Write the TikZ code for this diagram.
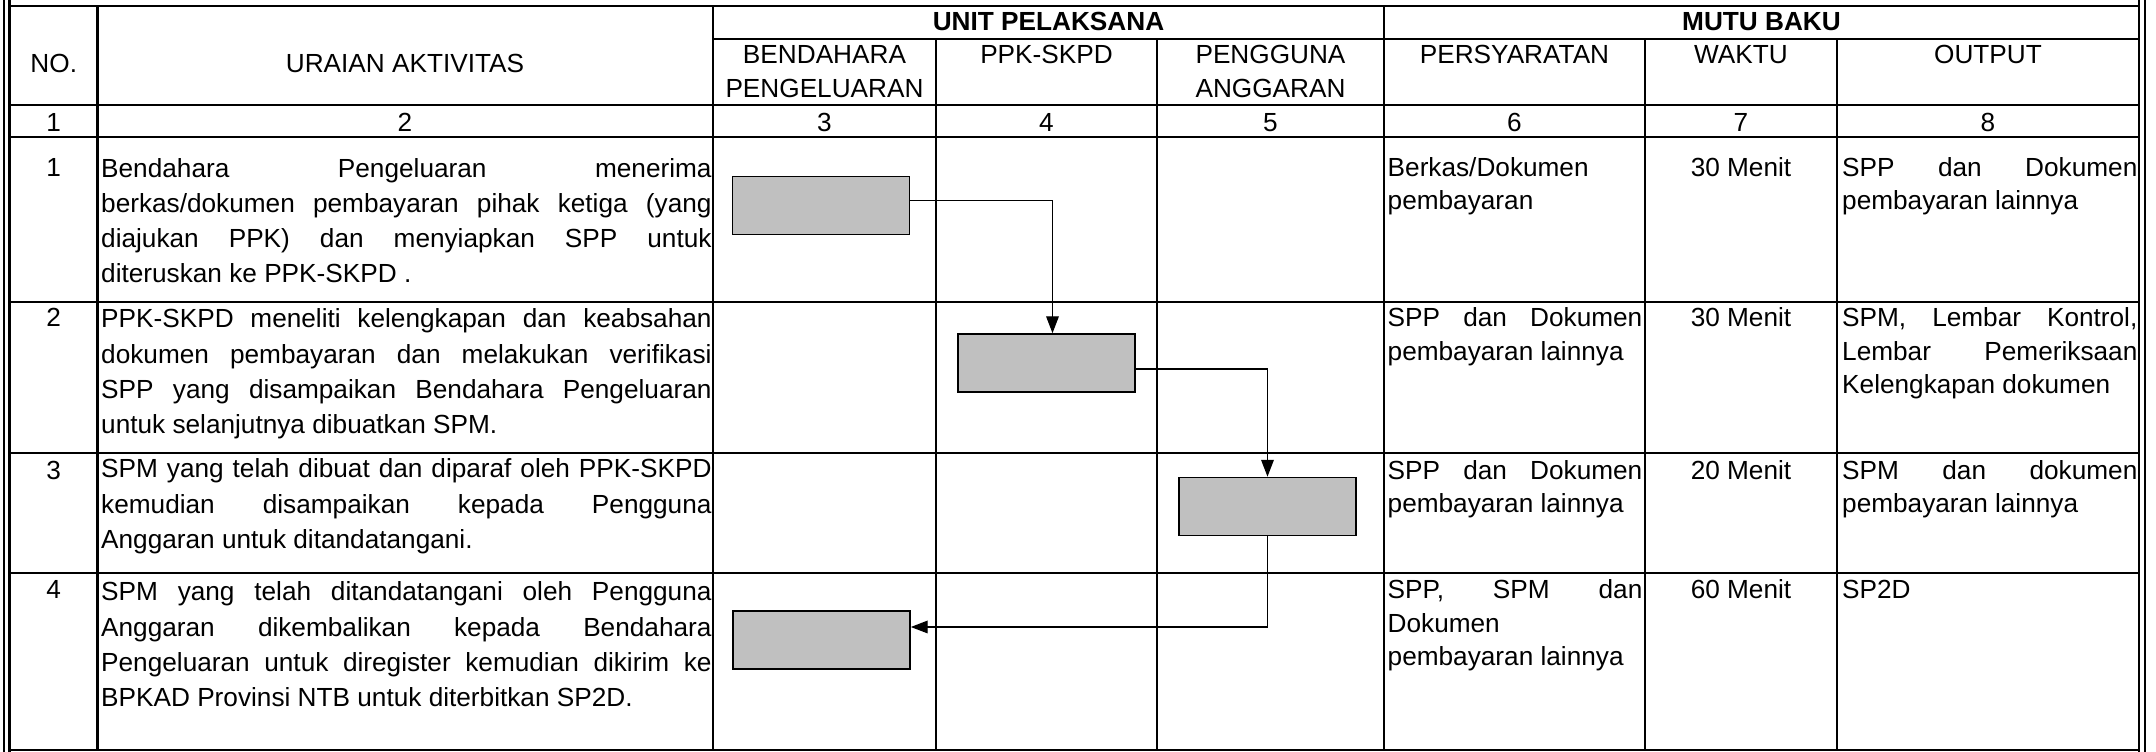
\documentclass[tikz,border=0pt]{standalone}
\usepackage{fontspec}
\setmainfont{Liberation Sans}
\usetikzlibrary{arrows.meta,calc}
\definecolor{boxgray}{HTML}{C0C0C0}
\newcommand{\ufont}{\fontsize{7.45}{9.96}\selectfont}
\newcommand{\cfont}{\fontsize{7.45}{9.39}\selectfont}
\newcommand{\hfont}{\fontsize{7.45}{9.67}\selectfont}
\newcommand{\ucell}[1]{\parbox[t]{6.10cm}{\ufont #1}}
\newcommand{\pcell}[1]{\parbox[t]{2.545cm}{\cfont #1}}
\newcommand{\ocell}[1]{\parbox[t]{2.95cm}{\cfont #1}}
\newcommand{\hcell}[1]{\parbox[t]{2.2cm}{\centering\hfont #1}}
\newcommand{\jl}[1]{\makebox[\linewidth][s]{#1}}
\begin{document}
\begin{tikzpicture}[x=0.01cm,y=-0.01cm,
  grid/.style={line width=0.75pt, line cap=rect},
  frame/.style={line width=0.7pt},
  hd/.style={anchor=base, inner sep=0pt, font=\hfont},
  hdb/.style={anchor=base, inner sep=0pt, font=\hfont\bfseries},
  txt/.style={anchor=base west, inner sep=0pt, font=\cfont},
  proc/.style={draw=black, line width=0.45pt, fill=boxgray, minimum width=1.77cm, minimum height=0.58cm, inner sep=0pt},
  flow/.style={draw=black, line width=0.35pt, -{Triangle[length=4.8pt,width=3.6pt]}}
]
\useasboundingbox (0,0) rectangle (2156,752);
% outer double frame
\draw[frame] (4,0) -- (4,752);
\draw[frame] (9.5,0) -- (9.5,752);
\draw[frame] (2139,0) -- (2139,752);
\draw[frame] (2145,0) -- (2145,752);
% table rules
\draw[grid] (9.5,6) -- (2139,6);
\draw[grid] (713,39) -- (2139,39);
\foreach \y in {105,137,302,453,573,750} \draw[grid] (9.5,\y) -- (2139,\y);
\foreach \x in {97.5,713,1384} \draw[grid] (\x,6) -- (\x,750);
\foreach \x in {936,1157,1645,1837} \draw[grid] (\x,39) -- (\x,750);

% header
\node[hd] (hno) at (53.75,72.5) {NO.};
\node[hd] (hur) at (405,72.5) {URAIAN AKTIVITAS};
\node[hdb] (hunit) at (1048.5,31) {UNIT PELAKSANA};
\node[hdb] (hmutu) at (1761.5,31) {MUTU BAKU};
\node[hd] (hbend) at (824.5,63.5) {\hcell{BENDAHARA\\PENGELUARAN}};
\node[hd] (hppk) at (1046.5,63.5) {PPK-SKPD};
\node[hd] (hpa) at (1270.5,63.5) {\hcell{PENGGUNA\\ANGGARAN}};
\node[hd] (hpers) at (1514.5,63.5) {PERSYARATAN};
\node[hd] (hwaktu) at (1741,63.5) {WAKTU};
\node[hd] (hout) at (1988,63.5) {OUTPUT};
% column numbers
\node[hd] (n1) at (53.75,131.5) {1};
\node[hd] (n2) at (405,131.5) {2};
\node[hd] (n3) at (824.5,131.5) {3};
\node[hd] (n4) at (1046.5,131.5) {4};
\node[hd] (n5) at (1270.5,131.5) {5};
\node[hd] (n6) at (1514.5,131.5) {6};
\node[hd] (n7) at (1741,131.5) {7};
\node[hd] (n8) at (1988,131.5) {8};

% row numbers
\node[hd] (r1) at (53.75,176.5) {1};
\node[hd] (r2) at (53.75,327) {2};
\node[hd] (r3) at (53.75,479.5) {3};
\node[hd] (r4) at (53.75,599) {4};

% uraian
\node[txt] (u1) at (100.5,177.5) {\ucell{\jl{Bendahara Pengeluaran menerima}\\\jl{berkas/dokumen pembayaran pihak ketiga (yang}\\\jl{diajukan PPK) dan menyiapkan SPP untuk}\\diteruskan ke PPK-SKPD .}};
\node[txt] (u2) at (100.5,328) {\ucell{\jl{PPK-SKPD meneliti kelengkapan dan keabsahan}\\\jl{dokumen pembayaran dan melakukan verifikasi}\\\jl{SPP yang disampaikan Bendahara Pengeluaran}\\untuk selanjutnya dibuatkan SPM.}};
\node[txt] (u3) at (100.5,478) {\ucell{\jl{SPM yang telah dibuat dan diparaf oleh PPK-SKPD}\\\jl{kemudian disampaikan kepada Pengguna}\\Anggaran untuk ditandatangani.}};
\node[txt] (u4) at (100.5,601) {\ucell{\jl{SPM yang telah ditandatangani oleh Pengguna}\\\jl{Anggaran dikembalikan kepada Bendahara}\\\jl{Pengeluaran untuk diregister kemudian dikirim ke}\\BPKAD Provinsi NTB untuk diterbitkan SP2D.}};

% persyaratan
\node[txt] (p1) at (1387,176.5) {\pcell{Berkas/Dokumen\\pembayaran}};
\node[txt] (p2) at (1387,327) {\pcell{\jl{SPP dan Dokumen}\\pembayaran lainnya}};
\node[txt] (p3) at (1387,479.5) {\pcell{\jl{SPP dan Dokumen}\\pembayaran lainnya}};
\node[txt] (p4) at (1387,599) {\pcell{\jl{SPP, SPM dan}\\Dokumen\\pembayaran lainnya}};

% waktu
\node[hd] (w1) at (1741,176.5) {30 Menit};
\node[hd] (w2) at (1741,327) {30 Menit};
\node[hd] (w3) at (1741,479.5) {20 Menit};
\node[hd] (w4) at (1741,599) {60 Menit};

% output
\node[txt] (o1) at (1841.5,176.5) {\ocell{\jl{SPP dan Dokumen}\\pembayaran lainnya}};
\node[txt] (o2) at (1841.5,327) {\ocell{\jl{SPM, Lembar Kontrol,}\\\jl{Lembar Pemeriksaan}\\Kelengkapan dokumen}};
\node[txt] (o3) at (1841.5,479.5) {\ocell{\jl{SPM dan dokumen}\\pembayaran lainnya}};
\node[txt] (o4) at (1841.5,599) {\ocell{SP2D}};

% process boxes
\node[proc] (b1) at (821,205.5) {};
\node[proc] (b2) at (1046.5,363) {};
\node[proc] (b3) at (1267.5,506.5) {};
\node[proc] (b4) at (821.5,640) {};

% connectors
\draw[flow] ($(b1.east)+(0,-5)$) -| ($(b2.north)+(6,0)$);
\draw[flow] ($(b2.east)+(0,6)$) -| (b3.north);
\draw[flow] (b3.south) |- ($(b4.east)+(0,-13)$);
\end{tikzpicture}
\end{document}
